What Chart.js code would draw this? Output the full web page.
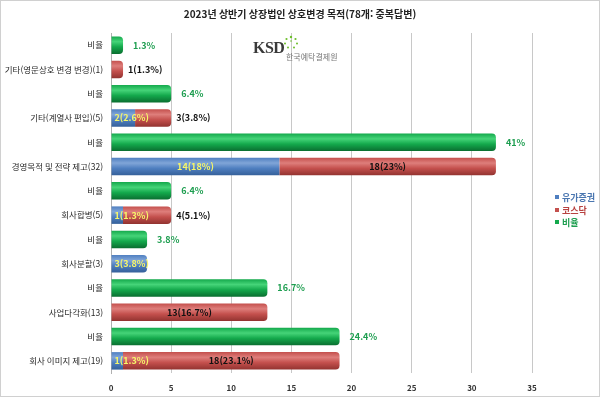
<!DOCTYPE html>
<html lang="ko">
<head>
<meta charset="utf-8">
<script src="https://cdn.jsdelivr.net/npm/chart.js@4/dist/chart.umd.min.js"></script>
<style>
  html, body { margin: 0; padding: 0; background: #fff; }
  #wrap { position: relative; width: 600px; height: 397px; box-sizing: border-box; border: 1px solid #d0d0d0; }
  #chart { display: block; }
  .logo { position: absolute; left: 252px; top: 36px; font-family: "Noto Sans CJK KR", sans-serif; }
  .logo .ksd { position: absolute; left: 0; top: 2px; font-size: 16px; font-weight: bold; color: #3a3a3a; letter-spacing: -0.5px; font-family: "Liberation Serif", serif; }
  .logo .name { position: absolute; left: 33px; top: 14px; font-size: 8px; color: #777; white-space: nowrap; }
  .logo svg { position: absolute; left: 30px; top: -2px; }
  #legend { position: absolute; left: 554px; top: 191px; font: bold 9px "Noto Sans CJK KR", sans-serif; line-height: 12.5px; }
  #legend div { white-space: nowrap; }
  #legend span { display: inline-block; width: 4px; height: 4px; margin-right: 3px; vertical-align: 2px; }
</style>
</head>
<body>
<div id="wrap">
  <canvas id="chart" width="598" height="395"></canvas>
  <div class="logo">
    <span class="ksd">KSD</span>
    <svg width="16" height="16" viewBox="0 0 16 16">
      <g fill="#6cbf2a">
        <circle cx="8" cy="2" r="1.2"/><circle cx="12.5" cy="4" r="1.1"/><circle cx="14" cy="8.5" r="1"/>
        <circle cx="3.5" cy="4" r="1.1"/><circle cx="2" cy="8.5" r="1"/><circle cx="5" cy="12.5" r="1"/>
        <circle cx="11" cy="12.5" r="1"/><circle cx="8" cy="6" r="0.8"/>
      </g>
    </svg>
    <span class="name">한국예탁결제원</span>
  </div>
  <div id="legend"></div>
</div>
<script>
  const FONT = '"Noto Sans CJK KR", "Malgun Gothic", sans-serif';

  const categories = ['비율', '기타(영문상호 변경 변경)(1)', '비율', '기타(계열사 편입)(5)', '비율', '경영목적 및 전략 제고(32)', '비율', '회사합병(5)', '비율', '회사분할(3)', '비율', '사업다각화(13)', '비율', '회사 이미지 제고(19)'];
  const seriesNames = ['유가증권', '코스닥', '비율'];
  const kospi = [null, null, null, 2, null, 14, null, 1, null, 3, null, null, null, 1];
  const kosdaq = [null, 1, null, 3, null, 18, null, 4, null, null, null, 13, null, 18];
  const ratio = [1, null, 5, null, 32, null, 5, null, 3, null, 13, null, 19, null];
  const kospiPct = ['', '', '', '2.6%', '', '18%', '', '1.3%', '', '3.8%', '', '', '', '1.3%'];
  const kosdaqPct = ['', '1.3%', '', '3.8%', '', '23%', '', '5.1%', '', '', '', '16.7%', '', '23.1%'];
  const ratioPct = ['1.3%', '', '6.4%', '', '41%', '', '6.4%', '', '3.8%', '', '16.7%', '', '24.4%', ''];
  const xTicks = [0, 5, 10, 15, 20, 25, 30, 35];

  const colors = {
    kospi: { base: '#4f7fc0', light: '#80a5d8', dark: '#35609a', text: '#4a76b0' },
    kosdaq: { base: '#c4504d', light: '#de7e7b', dark: '#923330', text: '#b84240' },
    ratio: { base: '#14a94c', light: '#45d478', dark: '#0a6e30', text: '#1e9e50' }
  };
  const barPct = 0.72;

  function cylinder(c) {
    return (ctx) => {
      const chart = ctx.chart;
      if (!chart.chartArea || ctx.dataIndex === undefined) return c.base;
      const y = chart.scales.y.getPixelForValue(ctx.dataIndex);
      const h = (chart.chartArea.bottom - chart.chartArea.top) / categories.length * barPct;
      const g = chart.ctx.createLinearGradient(0, y - h / 2, 0, y + h / 2);
      g.addColorStop(0, c.base);
      g.addColorStop(0.3, c.light);
      g.addColorStop(0.6, c.base);
      g.addColorStop(1, c.dark);
      return g;
    };
  }

  // value labels beside / inside bars
  const barLabels = {
    id: 'barLabels',
    afterDatasetsDraw(chart) {
      const ctx = chart.ctx;
      ctx.save();
      ctx.font = 'bold 9px ' + FONT;
      ctx.textBaseline = 'middle';
      chart.data.datasets.forEach((ds, di) => {
        const meta = chart.getDatasetMeta(di);
        meta.data.forEach((bar, i) => {
          const v = ds.data[i];
          if (!v) return;
          const p = bar.getProps(['x', 'y', 'base'], true);
          if (ds.key === 'ratio') {
            ctx.fillStyle = colors.ratio.text;
            ctx.textAlign = 'left';
            ctx.fillText(ratioPct[i], p.x + 10, p.y);
            return;
          }
          const pct = ds.key === 'kospi' ? kospiPct[i] : kosdaqPct[i];
          const text = v + '(' + pct + ')';
          const w = ctx.measureText(text).width;
          const len = p.x - p.base;
          if (ds.key === 'kospi') {
            ctx.fillStyle = '#f6f66a';
            if (len > w + 6) {
              ctx.textAlign = 'center';
              ctx.fillText(text, (p.x + p.base) / 2, p.y);
            } else {
              ctx.textAlign = 'left';
              ctx.fillText(text, p.base + 3, p.y);
            }
          } else {
            ctx.fillStyle = '#111';
            if (len > w * 2) {
              ctx.textAlign = 'center';
              ctx.fillText(text, (p.x + p.base) / 2, p.y);
            } else {
              ctx.textAlign = 'left';
              ctx.fillText(text, p.x + 5, p.y);
            }
          }
        });
      });
      ctx.restore();
    }
  };

  const keys = ['kospi', 'kosdaq', 'ratio'];
  const values = [kospi, kosdaq, ratio];

  new Chart(document.getElementById('chart'), {
    type: 'bar',
    data: {
      labels: categories,
      datasets: keys.map((k, i) => ({
        key: k,
        label: seriesNames[i],
        data: values[i],
        backgroundColor: cylinder(colors[k]),
        borderRadius: 4,
        barPercentage: barPct,
        categoryPercentage: 1
      }))
    },
    options: {
      indexAxis: 'y',
      responsive: false,
      animation: false,
      layout: { padding: 0 },
      plugins: {
        legend: { display: false },
        tooltip: { enabled: false },
        title: {
          display: true,
          text: '2023년 상반기 상장법인 상호변경 목적(78개: 중복답변)',
          color: '#222',
          font: { family: FONT, size: 10, weight: 'bold' },
          padding: { top: 7, bottom: 13 }
        }
      },
      scales: {
        x: {
          stacked: true,
          min: 0,
          max: 35,
          afterBuildTicks: (s) => { s.ticks = xTicks.map(v => ({ value: v })); },
          afterFit: (s) => { s.height = 23; },
          grid: { color: '#c8c8c8', drawTicks: false },
          border: { display: false },
          ticks: { color: '#333', padding: 10, font: { family: FONT, size: 8, weight: 'bold' } }
        },
        y: {
          stacked: true,
          afterFit: (s) => { s.width = 110; },
          grid: { display: false, drawTicks: false },
          border: { display: true, color: '#b0b0b0' },
          ticks: { color: '#2a2a2a', padding: 8, autoSkip: false, font: { family: FONT, size: 8.5 } }
        },
        // empty right-hand space kept for the legend
        spacer: {
          type: 'linear',
          position: 'right',
          afterFit: (s) => { s.width = 67; },
          grid: { display: false, drawTicks: false },
          border: { display: false },
          ticks: { display: false }
        }
      }
    },
    plugins: [barLabels]
  });

  const legend = document.getElementById('legend');
  keys.forEach((k, i) => {
    const row = document.createElement('div');
    row.style.color = colors[k].text;
    row.innerHTML = '<span style="background:' + colors[k].base + '"></span>' + seriesNames[i];
    legend.appendChild(row);
  });
</script>
</body>
</html>
